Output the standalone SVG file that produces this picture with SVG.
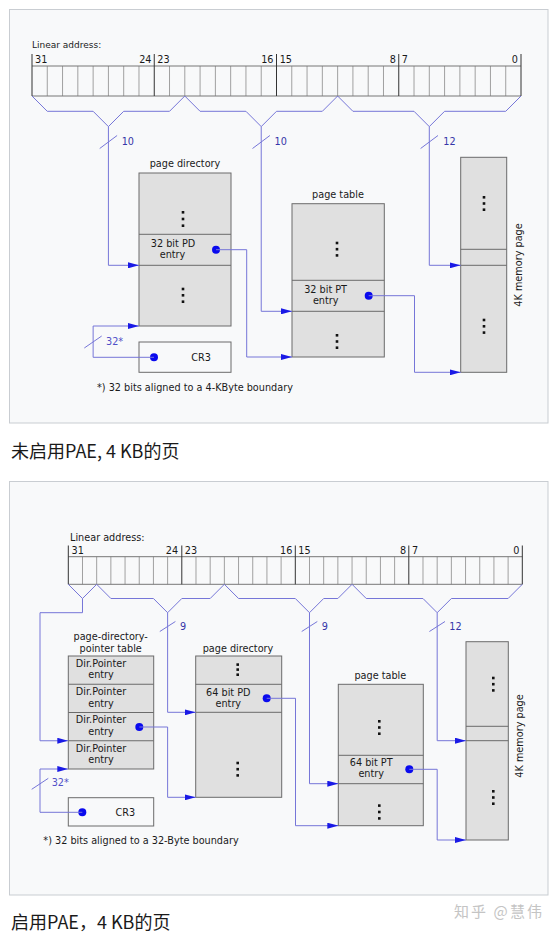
<svg xmlns="http://www.w3.org/2000/svg" width="556" height="935" viewBox="0 0 556 935">
<style>
.pnl{fill:#f8f9fa;stroke:#c9cdd2;stroke-width:1}
.t{font-family:"DejaVu Sans",sans-serif;font-size:9.7px;fill:#1a1a1a}
.c{text-anchor:middle}
.box{fill:#e0e0e0;stroke:#6b6b6b;stroke-width:1}
.cr{fill:#f8f9fa;stroke:#6b6b6b;stroke-width:1}
.sep{stroke:#6b6b6b;stroke-width:1;fill:none}
.cell{stroke:#a0a0a0;stroke-width:1;fill:none}
.reg{stroke:#777;stroke-width:1;fill:none}
.byte{stroke:#333;stroke-width:1;fill:none}
.ln{fill:none;stroke:#7676d8;stroke-width:1}
.ar{marker-end:url(#ah)}
.dot{fill:#0a0aee}
.lbl{font-family:"DejaVu Sans",sans-serif;font-size:9.7px;fill:#3636a8}
.el{fill:#111}
.cap{font-family:"Noto Sans CJK SC",sans-serif;font-size:18px;fill:#1a1a1a}
.wm{font-family:"Noto Sans CJK SC",sans-serif;font-size:15px;fill:#c4c4c4}
</style>
<defs>
<marker id="ah" markerWidth="11" markerHeight="6" refX="11" refY="3" orient="auto" markerUnits="userSpaceOnUse"><path d="M0,0 L11,3 L0,6 z" fill="#1a1ae6"/></marker>
</defs>
<rect width="556" height="935" fill="#ffffff"/>

<!-- ============ PANEL 1 ============ -->
<rect class="pnl" x="9.5" y="9.5" width="538.5" height="413.5"/>

<g id="linear-address-1">
<text class="t" x="32" y="47.5" style="font-size:9px">Linear address:</text>
<path class="cell" d="M47.28,66V96M62.56,66V96M77.84,66V96M93.13,66V96M108.41,66V96M123.69,66V96M138.97,66V96M169.53,66V96M184.81,66V96M200.09,66V96M215.38,66V96M230.66,66V96M245.94,66V96M261.22,66V96M291.78,66V96M307.06,66V96M322.34,66V96M337.63,66V96M352.91,66V96M368.19,66V96M383.47,66V96M414.03,66V96M429.31,66V96M444.59,66V96M459.88,66V96M475.16,66V96M490.44,66V96M505.72,66V96"/>
<path class="reg" d="M32,66H521M32,96H521"/>
<path class="byte" d="M32,54V96M154.25,54V96M276.5,54V96M398.75,54V96M521,54V96"/>
<text class="t" x="35" y="62.8">31</text>
<text class="t" x="151.5" y="62.8" text-anchor="end">24</text>
<text class="t" x="157.3" y="62.8">23</text>
<text class="t" x="273.5" y="62.8" text-anchor="end">16</text>
<text class="t" x="279.7" y="62.8">15</text>
<text class="t" x="395.8" y="62.8" text-anchor="end">8</text>
<text class="t" x="401.8" y="62.8">7</text>
<text class="t" x="518" y="62.8" text-anchor="end">0</text>
</g>

<g id="page-directory-1">
<text class="t c" x="185" y="166.5">page directory</text>
<rect class="box" x="139" y="173" width="92" height="153"/>
<path class="sep" d="M139,234.3H231M139,265.3H231"/>
<rect class="el" x="181.7" y="211" width="2.6" height="2.6"/><rect class="el" x="181.7" y="217.7" width="2.6" height="2.6"/><rect class="el" x="181.7" y="224.4" width="2.6" height="2.6"/>
<rect class="el" x="181.7" y="287.7" width="2.6" height="2.6"/><rect class="el" x="181.7" y="294" width="2.6" height="2.6"/><rect class="el" x="181.7" y="300.4" width="2.6" height="2.6"/>
<text class="t c" x="173" y="246.6">32 bit PD</text>
<text class="t c" x="172.5" y="258.3">entry</text>
<circle class="dot" cx="216" cy="249.7" r="4"/>
</g>

<g id="cr3-1">
<rect class="cr" x="139" y="342" width="92" height="30.3"/>
<circle class="dot" cx="154" cy="357.3" r="4"/>
<text class="t c" x="201" y="360.7">CR3</text>
</g>

<g id="page-table-1">
<text class="t c" x="338" y="197.6">page table</text>
<rect class="box" x="292" y="203.7" width="92.3" height="153.3"/>
<path class="sep" d="M292,280.3H384.3M292,311.3H384.3"/>
<rect class="el" x="335.7" y="241.7" width="2.6" height="2.6"/><rect class="el" x="335.7" y="247.9" width="2.6" height="2.6"/><rect class="el" x="335.7" y="254.1" width="2.6" height="2.6"/>
<rect class="el" x="335.7" y="334" width="2.6" height="2.6"/><rect class="el" x="335.7" y="340.2" width="2.6" height="2.6"/><rect class="el" x="335.7" y="346.4" width="2.6" height="2.6"/>
<text class="t c" x="325.6" y="292.5">32 bit PT</text>
<text class="t c" x="325.7" y="304.2">entry</text>
<circle class="dot" cx="368.7" cy="295.7" r="4"/>
</g>

<g id="memory-page-1">
<rect class="box" x="460.7" y="157.3" width="46" height="215"/>
<path class="sep" d="M460.7,249.3H506.7M460.7,265.3H506.7"/>
<rect class="el" x="482.7" y="196" width="2.6" height="2.6"/><rect class="el" x="482.7" y="202.2" width="2.6" height="2.6"/><rect class="el" x="482.7" y="208.4" width="2.6" height="2.6"/>
<rect class="el" x="482.7" y="318.7" width="2.6" height="2.6"/><rect class="el" x="482.7" y="325" width="2.6" height="2.6"/><rect class="el" x="482.7" y="331.3" width="2.6" height="2.6"/>
<text class="t c" transform="translate(521.6,265) rotate(-90)" x="0" y="0">4K memory page</text>
</g>

<g id="connectors-1">
<path class="ln" d="M32,96 L47.28,111.3 L93.13,111.3 L108.41,126.6 L123.69,111.3 L169.53,111.3 L184.81,96"/>
<path class="ln" d="M184.81,96 L200.09,111.3 L245.94,111.3 L261.22,126.6 L276.5,111.3 L322.34,111.3 L337.63,96"/>
<path class="ln" d="M337.63,96 L352.91,111.3 L414.03,111.3 L429.31,126.6 L444.59,111.3 L505.72,111.3 L521,96"/>
<path class="ln ar" d="M108.41,126.6 V265.3 H139"/>
<path class="ln ar" d="M261.22,126.6 V311.3 H292"/>
<path class="ln ar" d="M429.31,126.6 V265.3 H460.7"/>
<path class="ln" d="M99.7,148.5 L117.1,135.5 M252.5,148.5 L269.9,135.5 M420.6,148.5 L438,135.5"/>
<text class="lbl" x="121.7" y="145.1">10</text>
<text class="lbl" x="274.5" y="145.1">10</text>
<text class="lbl" x="443.3" y="145.1">12</text>
<path class="ln ar" d="M216,249.7 H246.7 V357 H292"/>
<path class="ln ar" d="M368.7,295.7 H414.5 V372.3 H460.7"/>
<path class="ln ar" d="M154,357.3 H93.13 V326 H139"/>
<path class="ln" d="M84.3,348 L101.7,336"/>
<text class="lbl" x="106" y="345" style="fill:#5050c8">32*</text>
</g>
<text class="t" x="97" y="390.5">*) 32 bits aligned to a 4-KByte boundary</text>

<text class="cap" x="11" y="458">未启用PAE, 4 KB的页</text>

<!-- ============ PANEL 2 ============ -->
<rect class="pnl" x="9.5" y="481.5" width="538.5" height="413.5"/>

<g id="linear-address-2">
<text class="t" x="70" y="541">Linear address:</text>
<path class="cell" d="M82.49,556.7V584.3M96.68,556.7V584.3M110.86,556.7V584.3M125.05,556.7V584.3M139.24,556.7V584.3M153.43,556.7V584.3M167.61,556.7V584.3M195.99,556.7V584.3M210.18,556.7V584.3M224.36,556.7V584.3M238.55,556.7V584.3M252.74,556.7V584.3M266.93,556.7V584.3M281.11,556.7V584.3M309.49,556.7V584.3M323.68,556.7V584.3M337.86,556.7V584.3M352.05,556.7V584.3M366.24,556.7V584.3M380.43,556.7V584.3M394.61,556.7V584.3M422.99,556.7V584.3M437.18,556.7V584.3M451.36,556.7V584.3M465.55,556.7V584.3M479.74,556.7V584.3M493.93,556.7V584.3M508.11,556.7V584.3"/>
<path class="reg" d="M68.3,556.7H522.3M68.3,584.3H522.3"/>
<path class="byte" d="M68.3,545.5V584.3M181.8,545.5V584.3M295.3,545.5V584.3M408.8,545.5V584.3M522.3,545.5V584.3"/>
<text class="t" x="71.6" y="554.2">31</text>
<text class="t" x="178.2" y="554.2" text-anchor="end">24</text>
<text class="t" x="184.8" y="554.2">23</text>
<text class="t" x="292.3" y="554.2" text-anchor="end">16</text>
<text class="t" x="298.3" y="554.2">15</text>
<text class="t" x="406.2" y="554.2" text-anchor="end">8</text>
<text class="t" x="412" y="554.2">7</text>
<text class="t" x="519.5" y="554.2" text-anchor="end">0</text>
</g>

<g id="pdp-table">
<text class="t c" x="110.7" y="640">page-directory-</text>
<text class="t c" x="110.7" y="651.5">pointer table</text>
<rect class="box" x="68.3" y="656" width="85.4" height="113"/>
<path class="sep" d="M68.3,684.25H153.7M68.3,712.5H153.7M68.3,740.75H153.7"/>
<text class="t c" x="101" y="666.8">Dir.Pointer</text>
<text class="t c" x="101" y="678.4">entry</text>
<text class="t c" x="101" y="695">Dir.Pointer</text>
<text class="t c" x="101" y="706.6">entry</text>
<text class="t c" x="101" y="723.3">Dir.Pointer</text>
<text class="t c" x="101" y="734.9">entry</text>
<text class="t c" x="101" y="751.5">Dir.Pointer</text>
<text class="t c" x="101" y="763.1">entry</text>
<circle class="dot" cx="139.3" cy="727" r="4"/>
</g>

<g id="cr3-2">
<rect class="cr" x="68.3" y="797.7" width="85.4" height="28.3"/>
<circle class="dot" cx="82.3" cy="812.3" r="4"/>
<text class="t c" x="125.3" y="815.8">CR3</text>
</g>

<g id="page-directory-2">
<text class="t c" x="238" y="651.6">page directory</text>
<rect class="box" x="195.7" y="656" width="86" height="141.3"/>
<path class="sep" d="M195.7,684.3H281.7M195.7,712.3H281.7"/>
<rect class="el" x="236.4" y="663.3" width="2.6" height="2.6"/><rect class="el" x="236.4" y="668.3" width="2.6" height="2.6"/><rect class="el" x="236.4" y="673.4" width="2.6" height="2.6"/>
<rect class="el" x="236.4" y="761.7" width="2.6" height="2.6"/><rect class="el" x="236.4" y="767.9" width="2.6" height="2.6"/><rect class="el" x="236.4" y="774.1" width="2.6" height="2.6"/>
<text class="t c" x="228.3" y="695.8">64 bit PD</text>
<text class="t c" x="228.3" y="706.8">entry</text>
<circle class="dot" cx="266.7" cy="698.3" r="4"/>
</g>

<g id="page-table-2">
<text class="t c" x="380.3" y="679.3">page table</text>
<rect class="box" x="338.3" y="684.3" width="85" height="141.4"/>
<path class="sep" d="M338.3,755.3H423.3M338.3,783.7H423.3"/>
<rect class="el" x="378" y="720" width="2.6" height="2.6"/><rect class="el" x="378" y="726.2" width="2.6" height="2.6"/><rect class="el" x="378" y="732.4" width="2.6" height="2.6"/>
<rect class="el" x="378" y="804.3" width="2.6" height="2.6"/><rect class="el" x="378" y="810.7" width="2.6" height="2.6"/><rect class="el" x="378" y="817.1" width="2.6" height="2.6"/>
<text class="t c" x="371.2" y="766.1">64 bit PT</text>
<text class="t c" x="371.2" y="777.2">entry</text>
<circle class="dot" cx="409.3" cy="769.3" r="4"/>
</g>

<g id="memory-page-2">
<rect class="box" x="466" y="641.7" width="42.3" height="198.3"/>
<path class="sep" d="M466,726.3H508.3M466,740.7H508.3"/>
<rect class="el" x="492" y="676.7" width="2.6" height="2.6"/><rect class="el" x="492" y="682.9" width="2.6" height="2.6"/><rect class="el" x="492" y="689.1" width="2.6" height="2.6"/>
<rect class="el" x="492" y="790" width="2.6" height="2.6"/><rect class="el" x="492" y="796.2" width="2.6" height="2.6"/><rect class="el" x="492" y="802.4" width="2.6" height="2.6"/>
<text class="t c" transform="translate(523.3,736) rotate(-90)" x="0" y="0">4K memory page</text>
</g>

<g id="connectors-2">
<path class="ln" d="M68.3,584.3 L82.49,598.5 L96.68,584.3"/>
<path class="ln" d="M96.68,584.3 L110.86,598.5 L153.43,598.5 L167.61,612.7 L181.8,598.5 L210.18,598.5 L224.36,584.3"/>
<path class="ln" d="M224.36,584.3 L238.55,598.5 L295.3,598.5 L309.49,612.7 L323.68,598.5 L337.86,598.5 L352.05,584.3"/>
<path class="ln" d="M352.05,584.3 L366.24,598.5 L422.99,598.5 L437.18,612.7 L451.36,598.5 L508.11,598.5 L522.3,584.3"/>
<path class="ln ar" d="M82.49,598.5 V612.7 H40 V740.75 H68.3"/>
<path class="ln ar" d="M167.61,612.7 V712.3 H195.7"/>
<path class="ln ar" d="M309.49,612.7 V783.7 H338.3"/>
<path class="ln ar" d="M437.18,612.7 V740.7 H466"/>
<path class="ln" d="M159.8,631.5 L175.4,621.5 M301.7,631.5 L317.3,621.5 M429.4,631.5 L445,621.5"/>
<text class="lbl" x="180" y="630.2">9</text>
<text class="lbl" x="321.8" y="630.2">9</text>
<text class="lbl" x="449.3" y="630.2">12</text>
<path class="ln ar" d="M139.3,727 H167.61 V797.3 H195.7"/>
<path class="ln ar" d="M266.7,698.3 H295.5 V825.7 H338.3"/>
<path class="ln ar" d="M409.3,769.3 H437.18 V840 H466"/>
<path class="ln ar" d="M82.3,812.3 H40 V769 H68.3"/>
<path class="ln" d="M31.7,789.3 L48.3,778.3"/>
<text class="lbl" x="51.7" y="786" style="fill:#5050c8">32*</text>
</g>
<text class="t" x="43.3" y="843.5">*) 32 bits aligned to a 32-Byte boundary</text>

<text class="wm" x="454" y="917" textLength="88" lengthAdjust="spacing">知乎 @慧伟</text>
<text class="cap" x="11" y="929">启用PAE，4 KB的页</text>
</svg>
